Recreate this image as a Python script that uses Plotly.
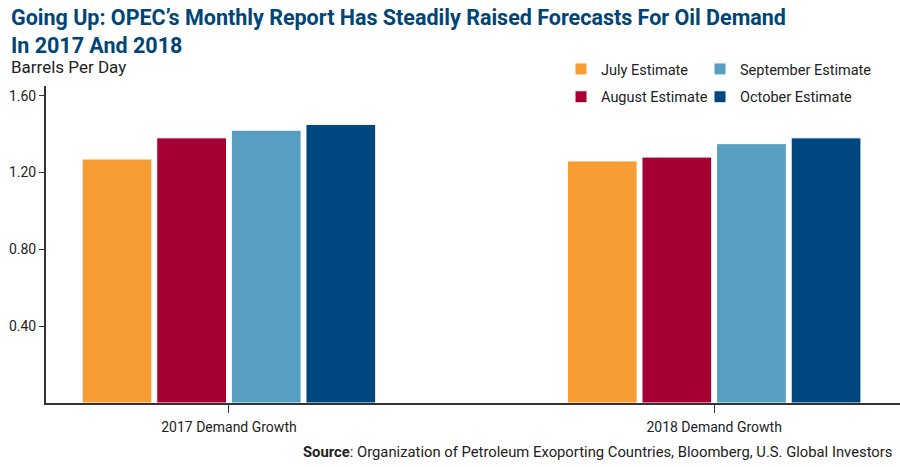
import plotly.graph_objects as go

categories = ["2017 Demand Growth", "2018 Demand Growth"]
series_names = ["July Estimate", "August Estimate", "September Estimate", "October Estimate"]
july = [1.27, 1.26]
august = [1.38, 1.28]
september = [1.42, 1.35]
october = [1.45, 1.38]
colors = ["#F89D33", "#A50034", "#589EC0", "#00467F"]
legend_ids = ["legend", "legend", "legend2", "legend2"]
y_ticks = [0.40, 0.80, 1.20, 1.60]

values = [july, august, september, october]

fig = go.Figure()
for name, vals, col, lg in zip(series_names, values, colors, legend_ids):
    fig.add_trace(go.Bar(
        x=categories, y=vals, name=name, legendgroup=name,
        marker=dict(color=col, line=dict(color="white", width=1)),
        legend=lg,
    ))

font_main = "Roboto, Arial, sans-serif"

W, H = 900, 467
L, R, T, B = 46, 0, 86, 64
PH = H - T - B

def py(ypix):
    return 1 + (T - ypix) / PH

def px(xpix):
    return (xpix - L) / (W - L - R)

leg_common = dict(
    xref="container", yref="container", xanchor="left", yanchor="top",
    orientation="v", font=dict(size=14.5, color="#222222"),
    bgcolor="rgba(0,0,0,0)", tracegroupgap=6, itemwidth=30,
)

fig.update_layout(
    width=W, height=H,
    paper_bgcolor="white", plot_bgcolor="white",
    margin=dict(l=L, r=R, t=T, b=B, autoexpand=False),
    barmode="group", bargap=0.385, bargroupgap=0.065,
    font=dict(family=font_main, color="#222222", size=14),
    xaxis=dict(
        type="category", range=[-0.377, 1.383],
        showline=True, linecolor="#333333", linewidth=2,
        ticks="outside", ticklen=8, tickcolor="#333333", tickwidth=1,
        tickfont=dict(size=14, color="#222222"), ticklabelstandoff=2,
        showgrid=False, zeroline=False,
    ),
    yaxis=dict(
        range=[0, 1.65], tickvals=y_ticks, tickformat=".2f",
        showline=True, linecolor="#333333", linewidth=2,
        ticks="outside", ticklen=5, tickcolor="#333333", tickwidth=1,
        tickfont=dict(size=14, color="#222222"),
        showgrid=False, zeroline=False,
    ),
    legend=dict(x=561 / W, y=1 - 53 / H, **leg_common),
    legend2=dict(x=700 / W, y=1 - 53 / H, **leg_common),
    showlegend=True,
)

fig.add_annotation(
    text="<b>Going Up: OPEC’s Monthly Report Has Steadily Raised Forecasts For Oil Demand<br>In 2017 And 2018</b>",
    xref="paper", yref="paper", x=px(9), y=py(3), xanchor="left", yanchor="top",
    align="left", showarrow=False,
    font=dict(family=font_main, size=21.5, color="#004578"),
)
fig.add_annotation(
    text="Barrels Per Day",
    xref="paper", yref="paper", x=px(9), y=py(67), xanchor="left", yanchor="middle",
    align="left", showarrow=False,
    font=dict(family=font_main, size=17, color="#222222"),
)
fig.add_annotation(
    text="<b>Source</b>: Organization of Petroleum Exoporting Countries, Bloomberg, U.S. Global Investors",
    xref="paper", yref="paper", x=px(894), y=py(452), xanchor="right", yanchor="middle",
    align="right", showarrow=False,
    font=dict(family=font_main, size=14.8, color="#222222"),
)

fig.write_html(
    "out.html",
    config={"displayModeBar": False},
    post_script="document.body.style.margin='0';document.body.style.overflow='hidden';",
)
